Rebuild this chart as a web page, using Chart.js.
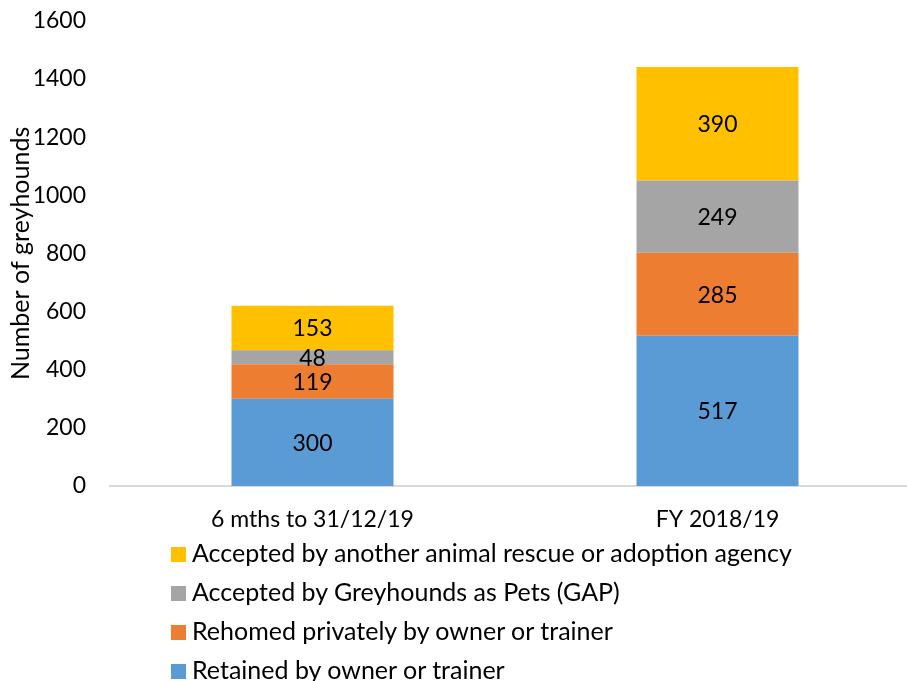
<!DOCTYPE html>
<html lang="en">
<head>
  <meta charset="UTF-8">
  <title>Greyhound outcomes</title>
  <script src="https://cdn.jsdelivr.net/npm/chart.js"></script>
  <style>
    body {
      margin: 0;
      width: 907px;
      height: 681px;
      overflow: hidden;
      background: #fff;
      font-family: Lato, "Open Sans", sans-serif;
      position: relative;
    }
    #wrap {
      position: absolute;
      left: 0;
      top: -9px;
      width: 920px;
      height: 560px;
    }
    #legend {
      position: absolute;
      left: 171px;
      top: 533px;
      font-size: 25px;
      color: #000;
    }
    #legend div {
      height: 39px;
      line-height: 39px;
      white-space: nowrap;
    }
    #legend span {
      display: inline-block;
      width: 15px;
      height: 15px;
      margin-right: 6px;
      vertical-align: 0px;
    }
  </style>
</head>
<body>
  <div id="wrap"><canvas id="chart" width="920" height="560"></canvas></div>
  <div id="legend"></div>

  <script>
    const categories = ['6 mths to 31/12/19', 'FY 2018/19'];
    const seriesNames = [
      'Retained by owner or trainer',
      'Rehomed privately by owner or trainer',
      'Accepted by Greyhounds as Pets (GAP)',
      'Accepted by another animal rescue or adoption agency'
    ];
    const retained = [300, 517];
    const rehomed = [119, 285];
    const gap = [48, 249];
    const rescue = [153, 390];
    const colors = ['#5B9BD5', '#ED7D31', '#A5A5A5', '#FFC000'];
    const yTicks = [0, 200, 400, 600, 800, 1000, 1200, 1400, 1600];

    const FONT = 'Lato, "Open Sans", sans-serif';

    // numbers written in the middle of each stacked piece
    const segmentLabels = {
      id: 'segmentLabels',
      afterDatasetsDraw(chart) {
        const ctx = chart.ctx;
        ctx.save();
        ctx.font = '23px ' + FONT;
        ctx.fillStyle = '#000';
        ctx.textAlign = 'center';
        ctx.textBaseline = 'middle';
        chart.data.datasets.forEach((ds, i) => {
          chart.getDatasetMeta(i).data.forEach((bar, j) => {
            const mid = (bar.y + bar.base) / 2;
            ctx.fillText(String(ds.data[j]), bar.x, mid + 1);
          });
        });
        ctx.restore();
      }
    };

    const allSeries = [retained, rehomed, gap, rescue];

    const chart = new Chart(document.getElementById('chart'), {
      type: 'bar',
      data: {
        labels: categories,
        datasets: allSeries.map((vals, i) => ({
          label: seriesNames[i],
          data: vals,
          backgroundColor: colors[i],
          borderWidth: 0,
          barPercentage: 0.4,
          categoryPercentage: 1
        }))
      },
      options: {
        responsive: false,
        animation: false,
        layout: { padding: 0 },
        plugins: {
          legend: { display: false },
          tooltip: { enabled: false }
        },
        scales: {
          x: {
            stacked: true,
            grid: { display: false },
            border: { color: '#D9D9D9', width: 2 },
            ticks: { color: '#000', font: { family: FONT, size: 23 }, padding: 12 },
            afterFit(scale) { scale.height = 65; }
          },
          y: {
            stacked: true,
            min: 0,
            max: 1600,
            afterBuildTicks(scale) { scale.ticks = yTicks.map(v => ({ value: v })); },
            grid: { display: false },
            border: { display: false },
            ticks: {
              color: '#000',
              font: { family: FONT, size: 23 },
              padding: 16,
              callback: v => String(v)
            },
            title: {
              display: true,
              text: 'Number of greyhounds',
              color: '#000',
              font: { family: FONT, size: 25 },
              padding: { top: 6, bottom: 0 }
            },
            afterFit(scale) { scale.width = 110; }
          }
        }
      },
      plugins: [segmentLabels]
    });

    // legend, one entry per line, top series first
    const legend = document.getElementById('legend');
    for (let i = seriesNames.length - 1; i >= 0; i--) {
      const row = document.createElement('div');
      const box = document.createElement('span');
      box.style.background = colors[i];
      row.appendChild(box);
      row.appendChild(document.createTextNode(seriesNames[i]));
      legend.appendChild(row);
    }
  </script>
</body>
</html>
